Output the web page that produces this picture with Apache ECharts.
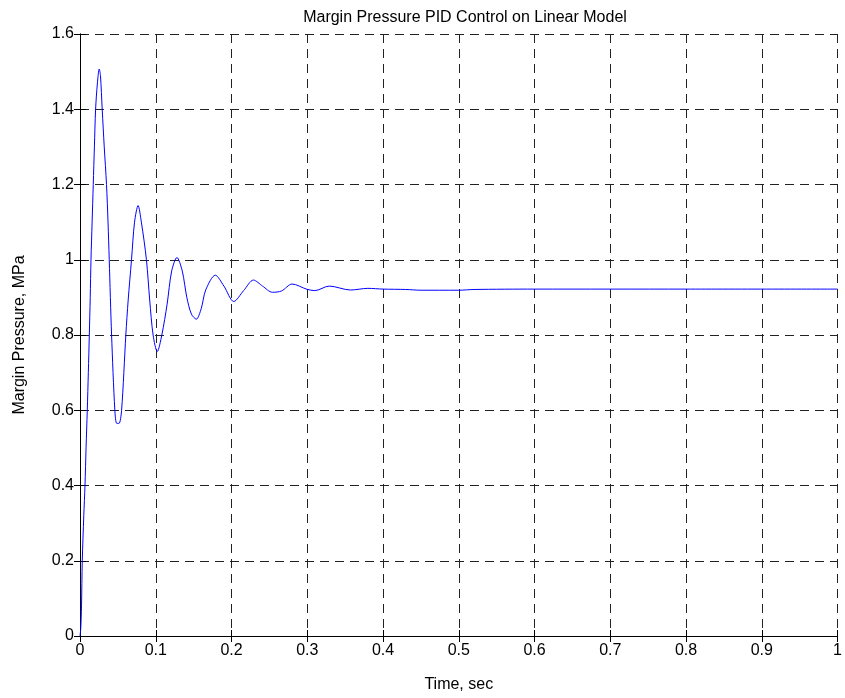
<!DOCTYPE html>
<html>
<head>
<meta charset="utf-8">
<script src="https://cdn.jsdelivr.net/npm/echarts@6/dist/echarts.min.js"></script>
<style>html,body{margin:0;padding:0;background:#fff;}#c{width:845px;height:698px;}</style>
</head>
<body>
<div id="c"></div>
<script>
var titleText = 'Margin Pressure PID Control on Linear Model';
var xLabel = 'Time, sec';
var yLabel = 'Margin Pressure, MPa';
var xTicks = ['0','0.1','0.2','0.3','0.4','0.5','0.6','0.7','0.8','0.9','1'];
var yTicks = ['0','0.2','0.4','0.6','0.8','1','1.2','1.4','1.6'];
var timeSec = [0, 0.001, 0.002, 0.003, 0.005, 0.0066, 0.008, 0.0096, 0.011, 0.0123, 0.0135, 0.0145, 0.016, 0.0175, 0.019, 0.0206, 0.023, 0.0254, 0.027, 0.0293, 0.032, 0.035, 0.037, 0.0386, 0.0417, 0.046, 0.0485, 0.0515, 0.0549, 0.0605, 0.0636, 0.068, 0.072, 0.0767, 0.081, 0.0877, 0.092, 0.0965, 0.102, 0.108, 0.115, 0.121, 0.128, 0.135, 0.141, 0.147, 0.1535, 0.160, 0.166, 0.1786, 0.19, 0.203, 0.216, 0.229, 0.241, 0.254, 0.266, 0.280, 0.2996, 0.310, 0.329, 0.357, 0.38, 0.40, 0.43, 0.45, 0.50, 0.52, 0.60, 0.80, 1.0];
var pressure = [0, 0.02, 0.08, 0.2, 0.32, 0.4, 0.5, 0.6, 0.7, 0.8, 0.9, 1.0, 1.1, 1.2, 1.3, 1.4, 1.47, 1.507, 1.49, 1.4, 1.3, 1.2, 1.1, 1.0, 0.8, 0.6, 0.565, 0.565, 0.6, 0.8, 0.893, 1.0, 1.1, 1.144, 1.1, 1.0, 0.893, 0.8, 0.756, 0.8, 0.882, 0.97, 1.006, 0.97, 0.9, 0.856, 0.842, 0.87, 0.92, 0.959, 0.93, 0.889, 0.918, 0.946, 0.93, 0.9135, 0.917, 0.9355, 0.9215, 0.918, 0.930, 0.9196, 0.924, 0.922, 0.921, 0.919, 0.919, 0.921, 0.922, 0.922, 0.922];

var pts = timeSec.map(function (t, i) { return [t, pressure[i]]; });
var font = 'Liberation Sans, Arial, Helvetica, sans-serif';
var chart = echarts.init(document.getElementById('c'), null, {renderer: 'canvas'});
chart.setOption({
  animation: false,
  backgroundColor: '#fff',
  title: {text: titleText, left: 460, textAlign: 'center', top: 5,
    textStyle: {fontFamily: font, fontSize: 16, fontWeight: 'normal', color: '#000'}},
  grid: {left: 80, right: 5, top: 34, bottom: 62},
  xAxis: [{
    type: 'value', min: 0, max: 1, interval: 0.1, position: 'bottom',
    name: xLabel, nameLocation: 'middle', nameGap: 41,
    nameTextStyle: {fontFamily: font, fontSize: 16, color: '#000'},
    axisLine: {show: true, lineStyle: {color: '#000', width: 1}},
    axisTick: {show: true, inside: true, length: 6, lineStyle: {color: '#000'}},
    axisLabel: {fontFamily: font, fontSize: 16, color: '#000', margin: 7,
      formatter: function (v) { return xTicks[Math.round(v * 10)]; }},
    splitLine: {show: true, lineStyle: {color: '#222', type: [9, 6], width: 1}}
  }, {
    type: 'value', min: 0, max: 1, interval: 0.1, position: 'top',
    axisLine: {show: true, lineStyle: {color: '#000', width: 1}},
    axisTick: {show: true, inside: true, length: 6, lineStyle: {color: '#000'}},
    axisLabel: {show: false}, splitLine: {show: false}
  }],
  yAxis: [{
    type: 'value', min: 0, max: 1.6, interval: 0.2, position: 'left',
    name: yLabel, nameLocation: 'middle', nameGap: 52,
    nameTextStyle: {fontFamily: font, fontSize: 16, color: '#000'},
    axisLine: {show: true, lineStyle: {color: '#000', width: 1}},
    axisTick: {show: true, inside: true, length: 6, lineStyle: {color: '#000'}},
    axisLabel: {fontFamily: font, fontSize: 16, color: '#000', margin: 6,
      formatter: function (v) { return yTicks[Math.round(v * 5)]; }},
    splitLine: {show: true, lineStyle: {color: '#222', type: [9, 6], width: 1}}
  }, {
    type: 'value', min: 0, max: 1.6, interval: 0.2, position: 'right',
    axisLine: {show: true, lineStyle: {color: '#000', width: 1}},
    axisTick: {show: true, inside: true, length: 6, lineStyle: {color: '#000'}},
    axisLabel: {show: false}, splitLine: {show: false}
  }],
  series: [{
    type: 'line', data: pts, xAxisIndex: 0, yAxisIndex: 0,
    showSymbol: false, smooth: 0.3,
    lineStyle: {color: '#0000ff', width: 1}, itemStyle: {color: '#0000ff'}
  }]
});
</script>
</body>
</html>
